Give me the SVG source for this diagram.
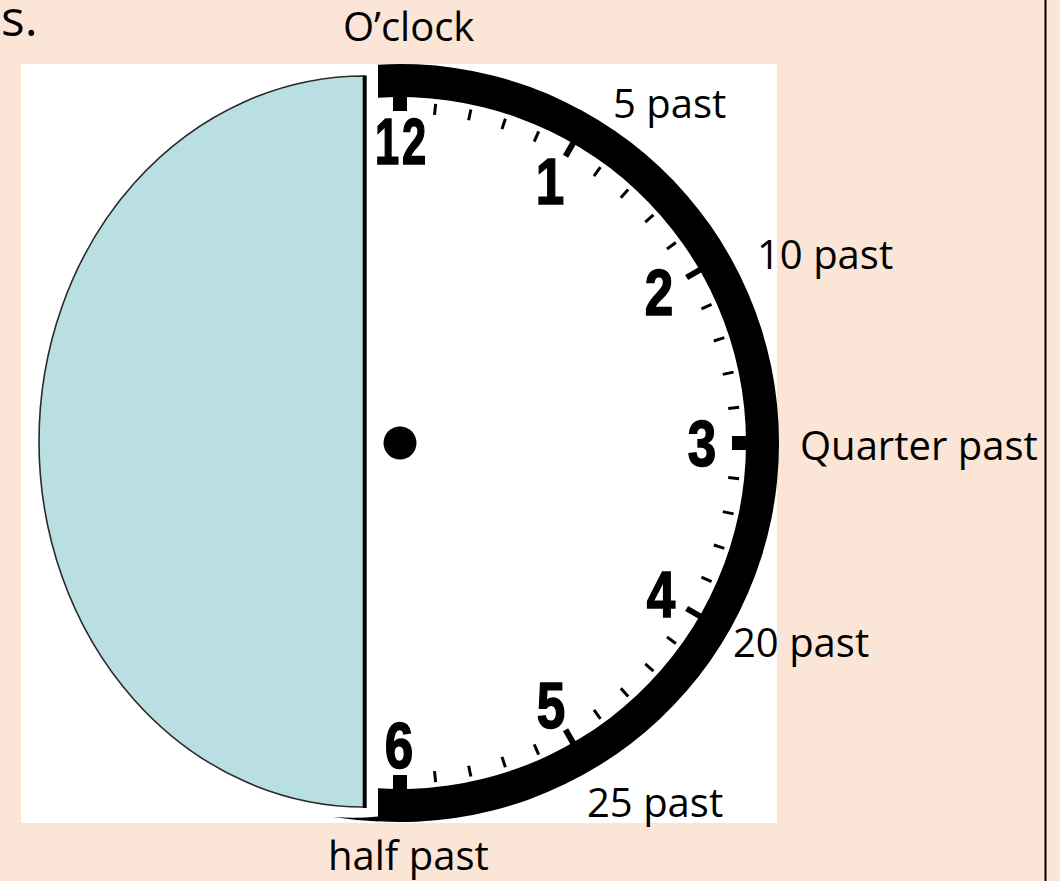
<svg xmlns="http://www.w3.org/2000/svg" xmlns:xlink="http://www.w3.org/1999/xlink" width="1060" height="881" viewBox="0 0 1060 881">
  <style>
    .lbl { font-family: "Open Sans", "Liberation Sans", sans-serif; font-size: 40px; fill: #000; }
    .num { font-family: "Liberation Sans", Arial, sans-serif; font-weight: bold; font-size: 64px; fill: #000; stroke: #000; stroke-width: 1.6px; text-anchor: middle; }
  </style>
  <defs>
    <line id="minor" x1="400" y1="102" x2="400" y2="113" stroke="#000" stroke-width="3"/>
    <line id="major" x1="400" y1="96" x2="400" y2="112" stroke="#000" stroke-width="6"/>
    <rect id="square" x="393" y="95" width="14" height="16" fill="#000"/>
  </defs>

  <rect id="background" x="0" y="0" width="1060" height="881" fill="#FBE5D6"/>
  <text class="lbl" x="1" y="36" style="font-size:50px">s.</text>

  <g id="clock-panel">
    <rect x="21" y="64" width="756" height="759" fill="#FFFFFF"/>
  </g>

  <g id="cover">
    <path d="M364.5,76 A325.5,365.5 0 0 0 364.5,807 Z" fill="#BADFE3" stroke="#2a2a2a" stroke-width="1.6"/>
    <line x1="364.7" y1="75.5" x2="364.7" y2="808" stroke="#000" stroke-width="4"/>
  </g>

  <g id="dial">
    <path d="M378,64.64 A379,379 0 1 1 378,821.36 L378,788.3 A346,346 0 1 0 378,97.7 Z" fill="#000"/>
    <path d="M378,821.4 A379,379 0 0 1 333,817.1 Q358,818.5 378,816.5 Z" fill="#000"/>
    <g id="squares">
      <use xlink:href="#square"/>
      <use xlink:href="#square" transform="rotate(90 400 443)"/>
      <use xlink:href="#square" transform="rotate(180 400 443)"/>
    </g>
    <g id="major-ticks">
      <use xlink:href="#major" transform="rotate(30 400 443)"/>
      <use xlink:href="#major" transform="rotate(60 400 443)"/>
      <use xlink:href="#major" transform="rotate(120 400 443)"/>
      <use xlink:href="#major" transform="rotate(150 400 443)"/>
    </g>
    <g id="minor-ticks">
      <use xlink:href="#minor" transform="rotate(6 400 443)"/>
      <use xlink:href="#minor" transform="rotate(12 400 443)"/>
      <use xlink:href="#minor" transform="rotate(18 400 443)"/>
      <use xlink:href="#minor" transform="rotate(24 400 443)"/>
      <use xlink:href="#minor" transform="rotate(36 400 443)"/>
      <use xlink:href="#minor" transform="rotate(42 400 443)"/>
      <use xlink:href="#minor" transform="rotate(48 400 443)"/>
      <use xlink:href="#minor" transform="rotate(54 400 443)"/>
      <use xlink:href="#minor" transform="rotate(66 400 443)"/>
      <use xlink:href="#minor" transform="rotate(72 400 443)"/>
      <use xlink:href="#minor" transform="rotate(78 400 443)"/>
      <use xlink:href="#minor" transform="rotate(84 400 443)"/>
      <use xlink:href="#minor" transform="rotate(96 400 443)"/>
      <use xlink:href="#minor" transform="rotate(102 400 443)"/>
      <use xlink:href="#minor" transform="rotate(108 400 443)"/>
      <use xlink:href="#minor" transform="rotate(114 400 443)"/>
      <use xlink:href="#minor" transform="rotate(126 400 443)"/>
      <use xlink:href="#minor" transform="rotate(132 400 443)"/>
      <use xlink:href="#minor" transform="rotate(138 400 443)"/>
      <use xlink:href="#minor" transform="rotate(144 400 443)"/>
      <use xlink:href="#minor" transform="rotate(156 400 443)"/>
      <use xlink:href="#minor" transform="rotate(162 400 443)"/>
      <use xlink:href="#minor" transform="rotate(168 400 443)"/>
      <use xlink:href="#minor" transform="rotate(174 400 443)"/>
    </g>
    <circle id="centre" cx="400" cy="443" r="16.5" fill="#000"/>
    <g id="numbers">
      <text class="num" transform="translate(402,164) scale(0.68,1)" letter-spacing="4">12</text>
      <text class="num" transform="translate(550,204) scale(0.8,1)">1</text>
      <text class="num" transform="translate(659,315) scale(0.8,1)">2</text>
      <text class="num" transform="translate(702,466) scale(0.8,1)">3</text>
      <text class="num" transform="translate(661,617) scale(0.8,1)">4</text>
      <text class="num" transform="translate(551,728) scale(0.8,1)">5</text>
      <text class="num" transform="translate(399,768) scale(0.8,1)">6</text>
    </g>
  </g>

  <g id="labels">
    <text id="l-oclock" class="lbl" x="343" y="41">O’clock</text>
    <text id="l-5" class="lbl" x="613" y="118">5 past</text>
    <text id="l-10" class="lbl" x="757" y="269">10 past</text>
    <text id="l-15" class="lbl" x="800" y="460">Quarter past</text>
    <text id="l-20" class="lbl" x="733" y="657">20 past</text>
    <text id="l-25" class="lbl" x="587" y="817">25 past</text>
    <text id="l-30" class="lbl" x="328" y="870">half past</text>
  </g>
  <line id="border" x1="1045.5" y1="0" x2="1045.5" y2="881" stroke="#000" stroke-width="2"/>
</svg>
